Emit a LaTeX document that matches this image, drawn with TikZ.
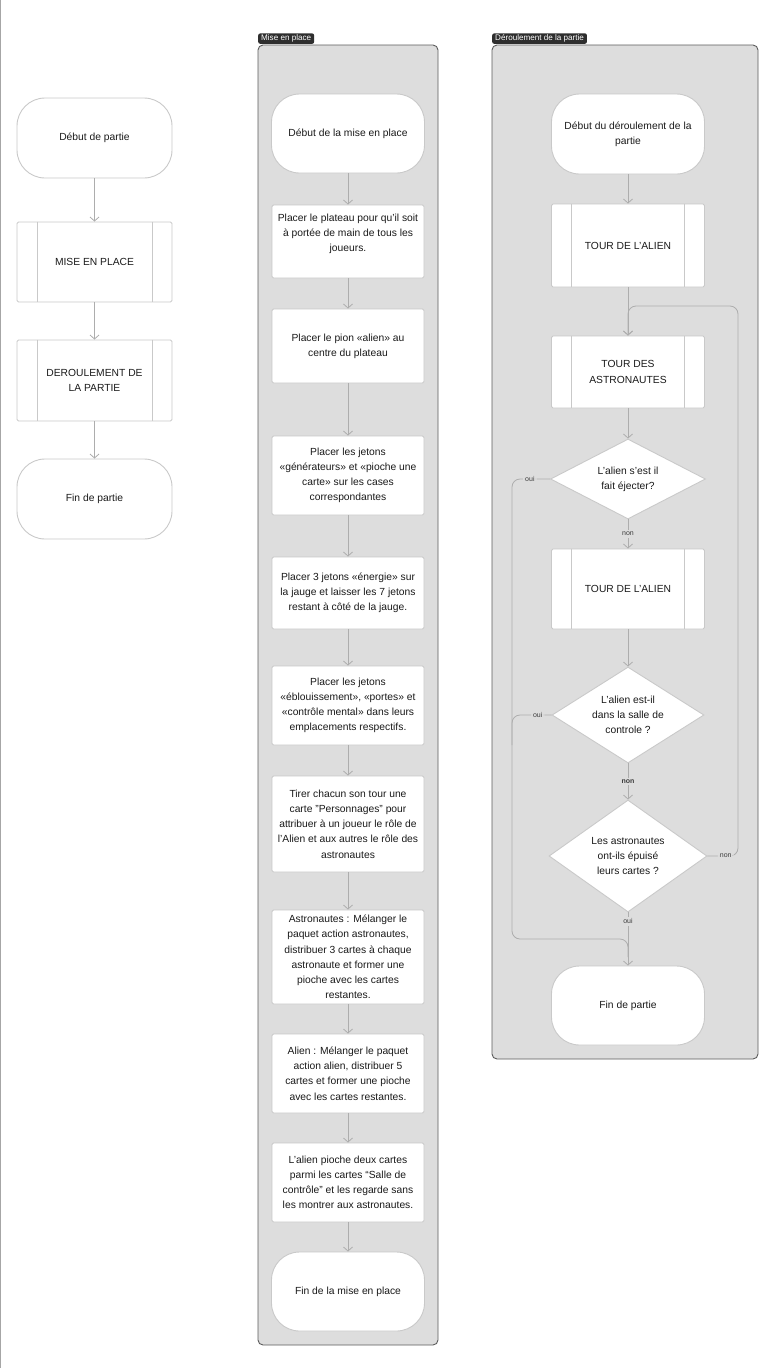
\documentclass[tikz,border=0pt]{standalone}
\usepackage{fontspec}
\setmainfont{Liberation Sans}
\usetikzlibrary{arrows.meta,shapes.geometric}

\definecolor{edgegray}{HTML}{C9C9C9}
\definecolor{arrowgray}{HTML}{ADADAD}
\definecolor{panelgray}{HTML}{DDDDDD}
\definecolor{panelline}{HTML}{5C5C5C}
\definecolor{tagdark}{HTML}{2E2E2E}
\definecolor{textdark}{HTML}{1A1A1A}

\tikzset{
  base/.style={draw=edgegray, fill=white, line width=0.9pt, text=textdark, align=center,
    font=\fontsize{10.3}{15.2}\selectfont, inner sep=0pt},
  terminal/.style={base, rounded corners=28pt, minimum width=153pt, minimum height=80pt},
  process/.style={base, rounded corners=1.5pt, minimum width=152pt},
  subproc/.style={base, rounded corners=1.5pt, minimum width=153pt},
  decision/.style={base, diamond, shape aspect=1.6},
  flow/.style={draw=arrowgray, line width=0.8pt, -{Straight Barb[length=4pt,width=9pt]}},
  link/.style={draw=arrowgray, line width=0.8pt, rounded corners=8pt},
  lbl/.style={fill=panelgray, text=textdark!85, font=\fontsize{7}{8}\selectfont, inner sep=2pt},
  tag/.style={fill=tagdark, text=white, font=\fontsize{8.1}{9.5}\selectfont, rounded corners=2pt,
    inner xsep=3pt, inner ysep=1.4pt, anchor=south west},
  panel/.style={draw=panelline, fill=panelgray, line width=0.9pt, rounded corners=5pt}
}

\begin{document}
\begin{tikzpicture}[x=1pt,y=-1pt]
  \useasboundingbox (0,0) rectangle (767,1368);
  \draw[gray!70, line width=1.2pt] (0.6,0) -- (0.6,1368);

  % main flow
  \begin{scope}
    \node[terminal, minimum width=155pt] (lstart) at (94.5,138) {Début de partie};
    \node[subproc, minimum width=155pt, minimum height=80pt] (mep) at (94.5,262) {MISE EN PLACE};
    \node[subproc, minimum width=155pt, minimum height=81pt] (der) at (94.5,380.5) {DEROULEMENT DE\\LA PARTIE};
    \node[terminal, minimum width=155pt] (lend) at (94.5,499) {Fin de partie};
    \foreach \a/\b in {lstart/mep,mep/der,der/lend}
      \draw[flow] (\a.south) -- (\b.north);
  \end{scope}

  % mise en place
  \begin{scope}
    \draw[panel] (258,45) rectangle (438,1345);
    \node[tag] (tagmep) at (258,44) {Mise en place};
    \node[terminal, minimum height=79pt] (mstart) at (348,133.5) {Début de la mise en place};
    \node[process, minimum height=73pt] (b1) at (348,241.5)
      {Placer le plateau pour qu’il soit\\à portée de main de tous les\\joueurs.\\[2pt]};
    \node[process, minimum height=74pt] (b2) at (348,346)
      {Placer le pion «alien» au\\centre du plateau};
    \node[process, minimum height=79pt] (b3) at (348,475.5)
      {Placer les jetons\\«générateurs» et «pioche une\\carte» sur les cases\\correspondantes};
    \node[process, minimum height=72pt] (b4) at (348,593)
      {Placer 3 jetons «énergie» sur\\la jauge et laisser les 7 jetons\\restant à côté de la jauge.};
    \node[process, minimum height=79pt] (b5) at (348,705.5)
      {Placer les jetons\\«éblouissement», «portes» et\\«contrôle mental» dans leurs\\emplacements respectifs.};
    \node[process, minimum height=96pt] (b6) at (348,824)
      {Tirer chacun son tour une\\carte "Personnages" pour\\attribuer à un joueur le rôle de\\l’Alien et aux autres le rôle des\\astronautes};
    \node[process, minimum height=94pt] (b7) at (348,957)
      {Astronautes : Mélanger le\\paquet action astronautes,\\distribuer 3 cartes à chaque\\astronaute et former une\\pioche avec les cartes\\restantes.};
    \node[process, minimum height=79pt] (b8) at (348,1073.5)
      {Alien : Mélanger le paquet\\action alien, distribuer 5\\cartes et former une pioche\\avec les cartes restantes.};
    \node[process, minimum height=79pt] (b9) at (348,1182.5)
      {L’alien pioche deux cartes\\parmi les cartes “Salle de\\contrôle” et les regarde sans\\les montrer aux astronautes.};
    \node[terminal, minimum height=79pt] (mend) at (348,1291.5) {Fin de la mise en place};
    \foreach \a/\b in {mstart/b1,b1/b2,b2/b3,b3/b4,b4/b5,b5/b6,b6/b7,b7/b8,b8/b9,b9/mend}
      \draw[flow] (\a.south) -- (\b.north);
  \end{scope}

  % deroulement de la partie
  \begin{scope}
    \draw[panel] (492,45) rectangle (758,1059);
    \node[tag] (tagder) at (492,44) {Déroulement de la partie};
    \node[terminal] (rstart) at (628,134) {Début du déroulement de la\\partie};
    \node[subproc, minimum height=83pt] (tour1) at (628,245.5) {TOUR DE L’ALIEN};
    \node[subproc, minimum height=72pt] (tour2) at (628,372) {TOUR DES\\ASTRONAUTES};
    \node[decision, minimum width=155pt, minimum height=80pt] (d1) at (628,479)
      {L’alien s’est il\\fait éjecter?};
    \node[subproc, minimum height=80pt] (tour3) at (628,589) {TOUR DE L’ALIEN};
    \node[decision, minimum width=152pt, minimum height=96pt] (d2) at (628,715)
      {L’alien est-il\\dans la salle de\\controle ?};
    \node[decision, minimum width=158pt, minimum height=112pt] (d3) at (628,856)
      {Les astronautes\\ont-ils épuisé\\leurs cartes ?};
    \node[terminal, minimum height=79pt] (rend) at (628,1005.5) {Fin de partie};
    \coordinate (loopR) at (738,306);
    \coordinate (loopL) at (512,939);

    \draw[flow] (rstart.south) -- (tour1.north);
    \draw[flow] (tour1.south) -- (tour2.north);
    \draw[flow] (tour2.south) -- (d1.north);
    \draw[flow] (d1.south) -- node[lbl] {non} (tour3.north);
    \draw[flow] (tour3.south) -- (d2.north);
    \draw[flow] (d2.south) -- node[lbl, font=\fontsize{7}{8}\selectfont\bfseries] {non} (d3.north);
    \draw[flow] (d3.south) -- node[lbl, pos=0.17] {oui} (rend.north);

    \draw[link, -{Straight Barb[length=4pt,width=9pt]}] (d3.east) -- node[lbl, pos=0.6] {non}
      (d3.east -| loopR) -- (loopR) -- (loopR -| tour2.north) -- (tour2.north);
    \draw[link] (d1.west) -- node[lbl, pos=0.53] {oui}
      (d1.west -| loopL) -- (loopL) -- (loopL -| rend.north) -- ++(0,18);
    \draw[link] (d2.west) -- node[lbl, pos=0.35] {oui} (d2.west -| loopL) -- ++(0,30);
  \end{scope}

  \foreach \n in {mep,der,tour1,tour2,tour3}
    \draw[edgegray, line width=0.9pt]
      ([xshift=20.5pt]\n.north west) -- ([xshift=20.5pt]\n.south west)
      ([xshift=-20.5pt]\n.north east) -- ([xshift=-20.5pt]\n.south east);
\end{tikzpicture}
\end{document}
